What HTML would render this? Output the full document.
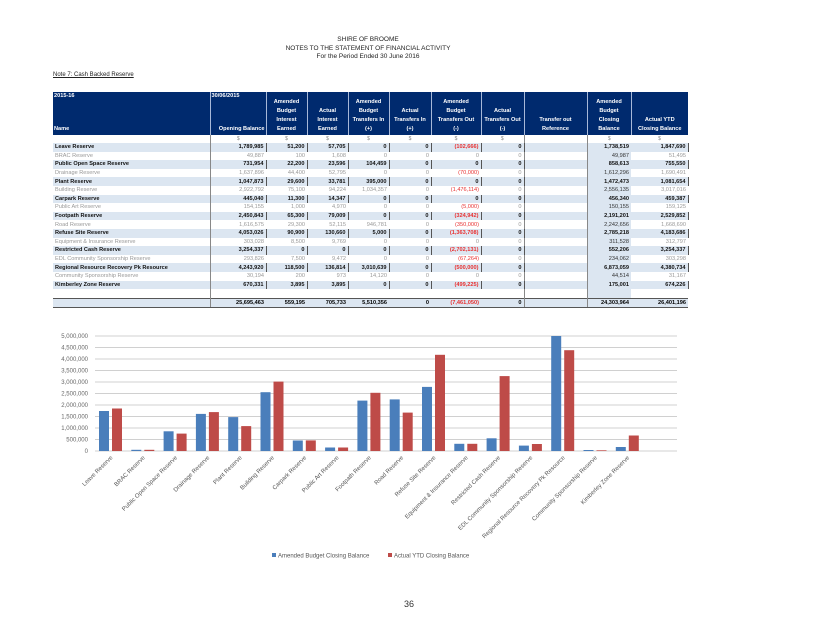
<!DOCTYPE html>
<html><head><meta charset="utf-8"><style>
body{margin:0;width:820px;height:634px;background:#fff;position:relative;overflow:hidden;font-family:"Liberation Sans",sans-serif;}
.t{position:absolute;left:0;width:736px;text-align:center;font-size:6.5px;color:#222;line-height:8.5px}
table{position:absolute;left:53px;top:92px;border-collapse:collapse;table-layout:fixed;font-size:5.6px;}
td{padding:0 2px;height:8.6px;line-height:8px;white-space:nowrap;text-align:right;overflow:hidden}
td:first-child{text-align:left}
td:nth-child(2),td:nth-child(9),td:nth-child(10){border-left:1px solid #888}
tr.b td:nth-child(n+2):nth-child(-n+8),tr.b td:nth-child(11){border-right:1.5px solid #555}
th{background:#002a6e;color:#fff;font-size:5.6px;font-weight:bold;vertical-align:bottom;text-align:center;padding:0 1px 1px;line-height:9px;border-left:1px solid #a7b8d8}
th:first-child{text-align:left;border-left:none}
tr.b td{background:#dce6f1;font-weight:bold;color:#111}
tr.g td{color:#999}
tr.g td.c{background:#dce6f1;color:#333}
td.c{background:#dce6f1}
.r{color:#e83030!important}
tr.d td{height:8px;color:#888;font-size:5px}
tr.tot td{background:#dce6f1;font-weight:bold;border-top:1.5px solid #555;border-bottom:1.5px solid #555;height:8px}
</style></head><body>
<div class="t" style="top:36px">SHIRE OF BROOME</div>
<div class="t" style="top:44.5px">NOTES TO THE STATEMENT OF FINANCIAL ACTIVITY</div>
<div class="t" style="top:53px">For the Period Ended 30 June 2016</div>
<div style="position:absolute;left:53px;top:72px;font-size:6px;text-decoration:underline;color:#222">Note 7: Cash Backed Reserve</div>
<table>
<colgroup><col style="width:157px"><col style="width:56px"><col style="width:41px"><col style="width:41px"><col style="width:41px"><col style="width:42px"><col style="width:50px"><col style="width:43px"><col style="width:63px"><col style="width:44px"><col style="width:57px"></colgroup>
<tr style="height:43px"><th style="vertical-align:top;position:relative">2015-16<div style="position:absolute;bottom:1px;left:1px">Name</div></th><th style="text-align:right;position:relative"><div style="position:absolute;top:0;left:1px">30/06/2015</div>Opening Balance</th><th>Amended<br>Budget<br>Interest<br>Earned</th><th>Actual<br>Interest<br>Earned</th><th>Amended<br>Budget<br>Transfers In<br>(+)</th><th>Actual<br>Transfers In<br>(+)</th><th>Amended<br>Budget<br>Transfers Out<br>(-)</th><th>Actual<br>Transfers Out<br>(-)</th><th>Transfer out<br>Reference</th><th>Amended<br>Budget<br>Closing<br>Balance</th><th>Actual YTD<br>Closing Balance</th></tr>
<tr class="d"><td></td><td style="text-align:center">$</td><td style="text-align:center">$</td><td style="text-align:center">$</td><td style="text-align:center">$</td><td style="text-align:center">$</td><td style="text-align:center">$</td><td style="text-align:center">$</td><td></td><td style="text-align:center">$</td><td style="text-align:center">$</td></tr>
<tr class="b"><td>Leave Reserve</td><td>1,789,985</td><td>51,200</td><td>57,705</td><td>0</td><td>0</td><td class="r">(102,666)</td><td>0</td><td></td><td>1,738,519</td><td>1,847,690</td></tr>
<tr class="g"><td>BRAC Reserve</td><td>49,887</td><td>100</td><td>1,608</td><td>0</td><td>0</td><td>0</td><td>0</td><td></td><td class="c">49,987</td><td>51,495</td></tr>
<tr class="b"><td>Public Open Space Reserve</td><td>731,954</td><td>22,200</td><td>23,596</td><td>104,459</td><td>0</td><td>0</td><td>0</td><td></td><td>858,613</td><td>755,550</td></tr>
<tr class="g"><td>Drainage Reserve</td><td>1,637,896</td><td>44,400</td><td>52,795</td><td>0</td><td>0</td><td class="r">(70,000)</td><td>0</td><td></td><td class="c">1,612,296</td><td>1,690,491</td></tr>
<tr class="b"><td>Plant Reserve</td><td>1,047,873</td><td>29,600</td><td>33,781</td><td>395,000</td><td>0</td><td>0</td><td>0</td><td></td><td>1,472,473</td><td>1,081,654</td></tr>
<tr class="g"><td>Building Reserve</td><td>2,922,792</td><td>75,100</td><td>94,224</td><td>1,034,357</td><td>0</td><td class="r">(1,476,114)</td><td>0</td><td></td><td class="c">2,556,135</td><td>3,017,016</td></tr>
<tr class="b"><td>Carpark Reserve</td><td>445,040</td><td>11,300</td><td>14,347</td><td>0</td><td>0</td><td>0</td><td>0</td><td></td><td>456,340</td><td>459,387</td></tr>
<tr class="g"><td>Public Art Reserve</td><td>154,155</td><td>1,000</td><td>4,970</td><td>0</td><td>0</td><td class="r">(5,000)</td><td>0</td><td></td><td class="c">150,155</td><td>159,125</td></tr>
<tr class="b"><td>Footpath Reserve</td><td>2,450,843</td><td>65,300</td><td>79,009</td><td>0</td><td>0</td><td class="r">(324,942)</td><td>0</td><td></td><td>2,191,201</td><td>2,529,852</td></tr>
<tr class="g"><td>Road Reserve</td><td>1,616,575</td><td>29,300</td><td>52,115</td><td>946,781</td><td>0</td><td class="r">(350,000)</td><td>0</td><td></td><td class="c">2,242,656</td><td>1,668,690</td></tr>
<tr class="b"><td>Refuse Site Reserve</td><td>4,053,026</td><td>90,900</td><td>130,660</td><td>5,000</td><td>0</td><td class="r">(1,363,708)</td><td>0</td><td></td><td>2,785,218</td><td>4,183,686</td></tr>
<tr class="g"><td>Equipment &amp; Insurance Reserve</td><td>303,028</td><td>8,500</td><td>9,769</td><td>0</td><td>0</td><td>0</td><td>0</td><td></td><td class="c">311,528</td><td>312,797</td></tr>
<tr class="b"><td>Restricted Cash Reserve</td><td>3,254,337</td><td>0</td><td>0</td><td>0</td><td>0</td><td class="r">(2,702,131)</td><td>0</td><td></td><td>552,206</td><td>3,254,337</td></tr>
<tr class="g"><td>EDL Community Sponsorship Reserve</td><td>293,826</td><td>7,500</td><td>9,472</td><td>0</td><td>0</td><td class="r">(67,264)</td><td>0</td><td></td><td class="c">234,062</td><td>303,298</td></tr>
<tr class="b"><td>Regional Resource Recovery Pk Resource</td><td>4,243,920</td><td>118,500</td><td>136,814</td><td>3,010,639</td><td>0</td><td class="r">(500,000)</td><td>0</td><td></td><td>6,873,059</td><td>4,380,734</td></tr>
<tr class="g"><td>Community Sponsorship Reserve</td><td>30,194</td><td>200</td><td>973</td><td>14,120</td><td>0</td><td>0</td><td>0</td><td></td><td class="c">44,514</td><td>31,167</td></tr>
<tr class="b"><td>Kimberley Zone Reserve</td><td>670,331</td><td>3,895</td><td>3,895</td><td>0</td><td>0</td><td class="r">(499,225)</td><td>0</td><td></td><td>175,001</td><td>674,226</td></tr>
<tr><td></td><td></td><td></td><td></td><td></td><td></td><td></td><td></td><td></td><td class="c"></td><td></td></tr>
<tr class="tot"><td></td><td>25,695,463</td><td>559,195</td><td>705,733</td><td>5,510,356</td><td>0</td><td class="r">(7,461,050)</td><td>0</td><td></td><td>24,303,964</td><td>26,401,196</td></tr>
</table>
<svg width="820" height="634" style="position:absolute;left:0;top:0" font-family="Liberation Sans, sans-serif">
<g stroke="#d0d0d0" stroke-width="1">
<line x1="95" x2="677" y1="336" y2="336"/><line x1="95" x2="677" y1="347.5" y2="347.5"/><line x1="95" x2="677" y1="359" y2="359"/><line x1="95" x2="677" y1="370.5" y2="370.5"/><line x1="95" x2="677" y1="382" y2="382"/><line x1="95" x2="677" y1="393.5" y2="393.5"/><line x1="95" x2="677" y1="405" y2="405"/><line x1="95" x2="677" y1="416.5" y2="416.5"/><line x1="95" x2="677" y1="428" y2="428"/><line x1="95" x2="677" y1="439.5" y2="439.5"/><line x1="95" x2="677" y1="451" y2="451"/>
</g>
<g font-size="6" fill="#666" text-anchor="end">
<text x="88" y="338">5,000,000</text><text x="88" y="349.5">4,500,000</text><text x="88" y="361">4,000,000</text><text x="88" y="372.5">3,500,000</text><text x="88" y="384">3,000,000</text><text x="88" y="395.5">2,500,000</text><text x="88" y="407">2,000,000</text><text x="88" y="418.5">1,500,000</text><text x="88" y="430">1,000,000</text><text x="88" y="441.5">500,000</text><text x="88" y="453">0</text>
</g>
<g fill="#4a7ebb">
<rect x="99" y="411" width="10" height="40"/><rect x="131.3" y="449.8" width="10" height="1.2"/><rect x="163.6" y="431.3" width="10" height="19.7"/><rect x="195.9" y="413.9" width="10" height="37.1"/><rect x="228.2" y="417.1" width="10" height="33.9"/><rect x="260.5" y="392.2" width="10" height="58.8"/><rect x="292.8" y="440.5" width="10" height="10.5"/><rect x="325.1" y="447.5" width="10" height="3.5"/><rect x="357.4" y="400.6" width="10" height="50.4"/><rect x="389.7" y="399.4" width="10" height="51.6"/><rect x="422" y="386.9" width="10" height="64.1"/><rect x="454.3" y="443.8" width="10" height="7.2"/><rect x="486.6" y="438.3" width="10" height="12.7"/><rect x="518.9" y="445.6" width="10" height="5.4"/><rect x="551.2" y="336" width="10" height="115"/><rect x="583.5" y="450" width="10" height="1"/><rect x="615.8" y="447" width="10" height="4"/>
</g>
<g fill="#be4b48">
<rect x="112" y="408.5" width="10" height="42.5"/><rect x="144.3" y="449.8" width="10" height="1.2"/><rect x="176.6" y="433.6" width="10" height="17.4"/><rect x="208.9" y="412.1" width="10" height="38.9"/><rect x="241.2" y="426.1" width="10" height="24.9"/><rect x="273.5" y="381.6" width="10" height="69.4"/><rect x="305.8" y="440.4" width="10" height="10.6"/><rect x="338.1" y="447.5" width="10" height="3.5"/><rect x="370.4" y="392.8" width="10" height="58.2"/><rect x="402.7" y="412.6" width="10" height="38.4"/><rect x="435" y="354.8" width="10" height="96.2"/><rect x="467.3" y="443.8" width="10" height="7.2"/><rect x="499.6" y="376.1" width="10" height="74.9"/><rect x="531.9" y="444" width="10" height="7"/><rect x="564.2" y="350.2" width="10" height="100.8"/><rect x="596.5" y="450.3" width="10" height=".7"/><rect x="628.8" y="435.5" width="10" height="15.5"/>
</g>
<g font-size="6" fill="#555" text-anchor="end">
<text transform="translate(113,458) rotate(-45)">Leave Reserve</text>
<text transform="translate(145.3,458) rotate(-45)">BRAC Reserve</text>
<text transform="translate(177.6,458) rotate(-45)">Public Open Space Reserve</text>
<text transform="translate(209.9,458) rotate(-45)">Drainage Reserve</text>
<text transform="translate(242.2,458) rotate(-45)">Plant Reserve</text>
<text transform="translate(274.5,458) rotate(-45)">Building Reserve</text>
<text transform="translate(306.8,458) rotate(-45)">Carpark Reserve</text>
<text transform="translate(339.1,458) rotate(-45)">Public Art Reserve</text>
<text transform="translate(371.4,458) rotate(-45)">Footpath Reserve</text>
<text transform="translate(403.7,458) rotate(-45)">Road Reserve</text>
<text transform="translate(436,458) rotate(-45)">Refuse Site Reserve</text>
<text transform="translate(468.3,458) rotate(-45)">Equipment &amp; Insurance Reserve</text>
<text transform="translate(500.6,458) rotate(-45)">Restricted Cash Reserve</text>
<text transform="translate(532.9,458) rotate(-45)">EDL Community Sponsorship Reserve</text>
<text transform="translate(565.2,458) rotate(-45)">Regional Resource Recovery Pk Resource</text>
<text transform="translate(597.5,458) rotate(-45)">Community Sponsorship Reserve</text>
<text transform="translate(629.8,458) rotate(-45)">Kimberley Zone Reserve</text>
</g>
<rect x="272" y="553" width="4" height="4" fill="#4a7ebb"/><text x="278" y="557.5" font-size="6" fill="#555">Amended Budget Closing Balance</text>
<rect x="388" y="553" width="4" height="4" fill="#be4b48"/><text x="394" y="557.5" font-size="6" fill="#555">Actual YTD Closing Balance</text>
<text x="409" y="607" font-size="9" fill="#333" text-anchor="middle">36</text>
</svg>
</body></html>
